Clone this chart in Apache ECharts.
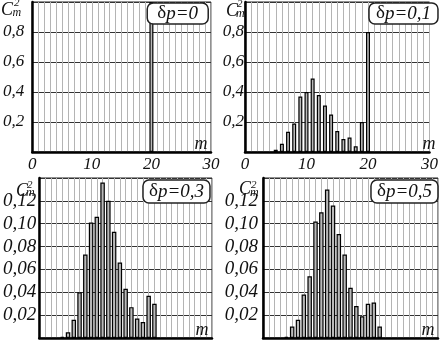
<!DOCTYPE html>
<html>
<head>
<meta charset="utf-8">
<script src="https://cdn.jsdelivr.net/npm/echarts@6/dist/echarts.min.js"></script>
<style>
html,body{margin:0;padding:0;background:#fff}
#chart{width:441px;height:340px}
</style>
</head>
<body>
<div id="chart"></div>
<script>
// C_m^2 distributions
const mA = [20];
const cA = [1.0];
const mB = [5, 6, 7, 8, 9, 10, 11, 12, 13, 14, 15, 16, 17, 18, 19, 20];
const cB = [0.015, 0.055, 0.135, 0.19, 0.37, 0.40, 0.49, 0.38, 0.31, 0.25, 0.14, 0.087, 0.097, 0.038, 0.20, 0.80];
const mC = [4, 5, 6, 7, 8, 9, 10, 11, 12, 13, 14, 15, 16, 17, 18, 19, 20];
const cC = [0.001, 0.005, 0.016, 0.040, 0.073, 0.101, 0.106, 0.136, 0.120, 0.093, 0.066, 0.043, 0.027, 0.017, 0.014, 0.037, 0.030];
const mD = [4, 5, 6, 7, 8, 9, 10, 11, 12, 13, 14, 15, 16, 17, 18, 19, 20];
const cD = [0.001, 0.010, 0.016, 0.038, 0.054, 0.102, 0.110, 0.130, 0.116, 0.091, 0.073, 0.044, 0.028, 0.019, 0.030, 0.031, 0.010];
const dpLabels = ['0', '0,1', '0,3', '0,5'];
const yMax = [1.0, 1.0, 0.14, 0.14];
const yStep = [0.2, 0.2, 0.02, 0.02];

const serif = '"Liberation Serif", "Times New Roman", serif';
const pair = (ms, cs) => ms.map((m, i) => [m, cs[i]]);
const seriesData = [pair(mA, cA), pair(mB, cB), pair(mC, cC), pair(mD, cD)];

const grids = [
  {left: 27, top: 2, width: 184, height: 150},
  {left: 245, top: 2, width: 194, height: 150},
  {left: 38, top: 178, width: 174, height: 160},
  {left: 263, top: 178, width: 175, height: 160}
];
const yMargin = [8, 1, 3, 5];
const labelSize = [17, 17, 19, 19];
const boxRight = [233, 3, 231, 3];
const boxTop = [3, 3, 180, 180];
const boxPad = [[1, 10], [1, 7], [2, 6], [2, 6]];
// C_m^2 label pieces: [cx, cy, supX, supY, subX, subY]
const cLab = [
  [1, 10, 14, 3.5, 12.5, 13],
  [226, 11, 237, 4.5, 236, 14],
  [16, 191, 27, 185.5, 26, 193],
  [239, 189, 251, 185, 250, 193]
];

const txt = (text, x, y, size, extra) => ({
  type: 'text', x: x, y: y, z: 20,
  style: Object.assign({
    text: text, fontFamily: serif, fontStyle: 'italic', fontWeight: 'normal',
    fontSize: size, fill: '#111', verticalAlign: 'middle'
  }, extra || {})
});

const myChart = echarts.init(document.getElementById('chart'), null, {renderer: 'canvas'});

const option = {
  backgroundColor: '#fff',
  animation: false,
  grid: grids.map(g => Object.assign({show: true, borderColor: '#222', borderWidth: 1, containLabel: false}, g)),
  xAxis: grids.map((g, i) => ({
    gridIndex: i,
    type: 'value',
    min: 0,
    max: 30,
    interval: 1,
    axisLine: {show: true, lineStyle: {color: '#000', width: 2.5}},
    axisTick: {show: false},
    axisLabel: {
      show: i < 2,
      margin: 4,
      fontFamily: serif,
      fontStyle: 'italic',
      fontSize: 17,
      color: '#111',
      formatter: v => (v % 10 === 0 ? String(v) : '')
    },
    splitLine: {show: true, lineStyle: {color: '#b4b4b4', width: 1}}
  })),
  yAxis: grids.map((g, i) => ({
    gridIndex: i,
    type: 'value',
    min: 0,
    max: yMax[i],
    interval: yStep[i],
    axisLine: {show: true, lineStyle: {color: '#000', width: 2.5}},
    axisTick: {show: false},
    axisLabel: {
      margin: yMargin[i],
      fontFamily: serif,
      fontStyle: 'italic',
      fontSize: labelSize[i],
      color: '#111',
      formatter: v => (v < 1e-9 || Math.abs(v - yMax[i]) < 1e-9) ? '' :
        v.toFixed(i < 2 ? 1 : 2).replace('.', ',')
    },
    splitLine: {show: true, lineStyle: {color: '#333', width: 1}}
  })),
  title: dpLabels.map((t, i) => ({
    text: '{d|δ}{t|p=' + t + '}',
    right: boxRight[i],
    top: boxTop[i],
    padding: boxPad[i],
    backgroundColor: '#fff',
    borderColor: '#222',
    borderWidth: 1.5,
    borderRadius: 6,
    z: 10,
    textStyle: {
      fontWeight: 'normal',
      rich: {
        d: {fontFamily: serif, fontWeight: 'normal', fontSize: 19, color: '#111', lineHeight: 19},
        t: {fontFamily: serif, fontWeight: 'normal', fontStyle: 'italic', fontSize: 19, color: '#111', lineHeight: 19}
      }
    }
  })),
  graphic: grids.map((g, i) => ({
    type: 'group',
    children: [
      txt('C', cLab[i][0], cLab[i][1], 18),
      txt('2', cLab[i][2], cLab[i][3], 11),
      txt('m', cLab[i][4], cLab[i][5], 12),
      txt('m', g.left + g.width - 10, g.top + g.height - 8, 18, {align: 'center'})
    ]
  })),
  series: seriesData.map((d, i) => ({
    type: 'bar',
    xAxisIndex: i,
    yAxisIndex: i,
    data: d,
    barWidth: i < 2 ? 4 : 4.5,
    itemStyle: {color: '#b9b9b9', borderColor: '#000', borderWidth: 1.2}
  }))
};

myChart.setOption(option, true);
</script>
</body>
</html>
